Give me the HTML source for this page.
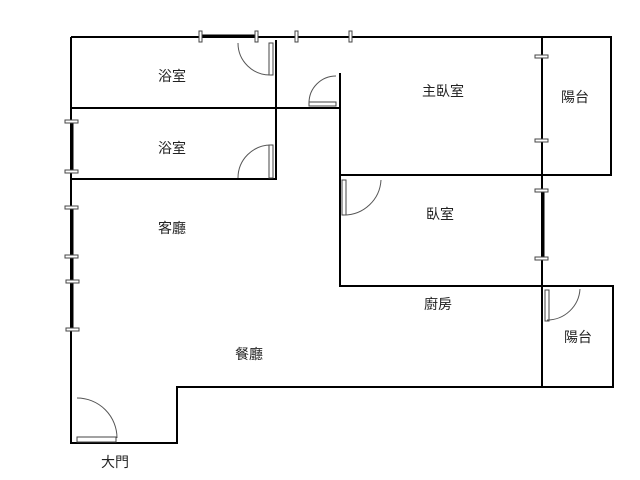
<html><body style="margin:0;background:#fff">
<svg width="640" height="480" xmlns="http://www.w3.org/2000/svg" font-family="Liberation Sans, Noto Sans CJK TC, sans-serif" font-size="14">
<g stroke="#000" stroke-width="2" fill="none">
<path d="M71,37 H611 V175 H542"/>
<path d="M71,37 V443 H177 V387 H613 V286 H340 V73"/>
<path d="M542,37 V387"/>
<path d="M340,175 H542"/>
<path d="M276,40 V179 H71"/>
<path d="M71,108 H339"/>
<path d="M200,36 H257" stroke-width="3"/>
<path d="M72,121 V171 M72,207 V329 M543,190 V258" stroke-width="3"/>
</g>
<g fill="#fff" stroke="#444" stroke-width="1">
<rect x="199" y="31" width="3" height="11"/><rect x="255" y="31" width="3" height="11"/>
<rect x="295" y="31" width="3" height="11"/><rect x="349" y="31" width="3" height="11"/>
<rect x="65" y="120" width="13" height="3"/><rect x="65" y="170" width="13" height="3"/>
<rect x="65" y="206" width="13" height="3"/><rect x="65" y="255" width="13" height="3"/>
<rect x="66" y="280" width="13" height="3"/><rect x="66" y="328" width="13" height="3"/>
<rect x="535" y="55" width="13" height="3"/><rect x="535" y="139" width="13" height="3"/>
<rect x="535" y="189" width="13" height="3"/><rect x="535" y="257" width="13" height="3"/>
<rect x="269" y="43" width="4" height="32"/><rect x="269" y="145" width="4" height="33"/>
<rect x="309" y="102" width="27" height="4"/><rect x="342" y="180" width="4" height="35"/>
<rect x="545" y="290" width="4" height="31"/><rect x="77" y="437" width="39" height="5"/>
</g>
<g stroke="#555" stroke-width="1" fill="none">
<path d="M238,43 A32,32 0 0 0 271,75"/>
<path d="M238,178 A33,33 0 0 1 271,145"/>
<path d="M309,103 A27,27 0 0 1 336,76"/>
<path d="M381,180 A37,37 0 0 1 344,215"/>
<path d="M580,289 A33,33 0 0 1 547,320"/>
<path d="M77,398 A40,40 0 0 1 117,438"/>
</g>
<g fill="#222" text-anchor="middle">
<text x="172" y="81">浴室</text><text x="172" y="153">浴室</text>
<text x="443" y="96">主臥室</text><text x="575" y="102">陽台</text>
<text x="440" y="219">臥室</text><text x="438" y="309">廚房</text>
<text x="578" y="342">陽台</text><text x="172" y="233">客廳</text>
<text x="249" y="359">餐廳</text><text x="115" y="467">大門</text>
</g>
</svg>
</body></html>
